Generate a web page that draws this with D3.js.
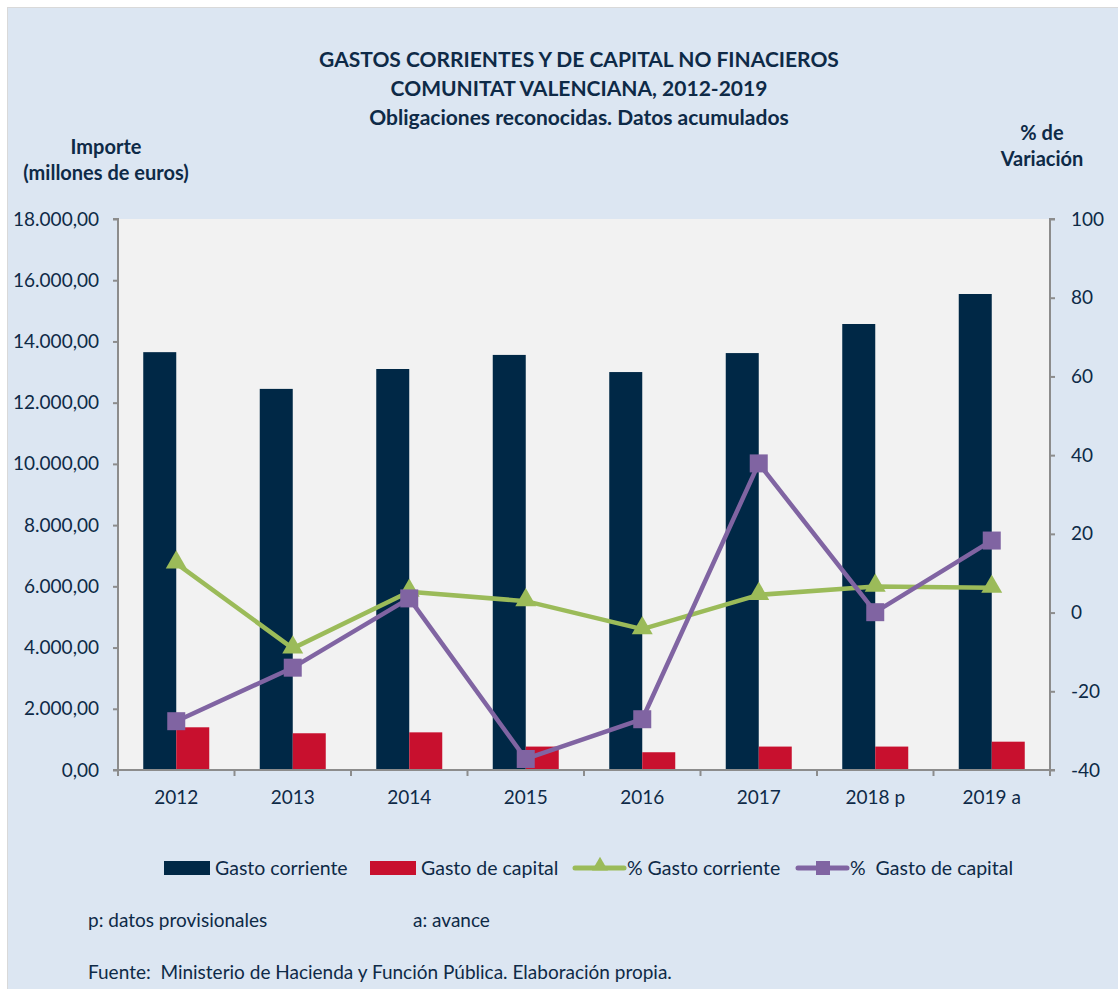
<!DOCTYPE html>
<html>
<head>
<meta charset="utf-8">
<script src="https://cdn.jsdelivr.net/npm/d3@7"></script>
<style>
  body { margin: 0; background: #fff; }
  text { font-family: Lato, "Open Sans", sans-serif; fill: #0e2a47; white-space: pre; }
</style>
</head>
<body>
<div id="chart"></div>
<script>
// Gastos corrientes y de capital, Comunitat Valenciana 2012-2019
var years = ["2012", "2013", "2014", "2015", "2016", "2017", "2018 p", "2019 a"];
var gastoCorriente = [13650, 12450, 13100, 13560, 13000, 13620, 14570, 15550];
var gastoCapital = [1395, 1200, 1230, 765, 580, 765, 765, 925];
var pctCorriente = [12.5, -9.1, 5.3, 2.9, -4.2, 4.5, 6.6, 6.3];
var pctCapital = [-27.6, -14, 3.6, -37.2, -27.1, 37.9, 0.1, 18.3];
var leftTicks = [0, 2000, 4000, 6000, 8000, 10000, 12000, 14000, 16000, 18000];
var rightTicks = [-40, -20, 0, 20, 40, 60, 80, 100];

var width = 1118, height = 989;
var plot = {left: 118, right: 1050, top: 219, bottom: 770};

var colors = {
    corriente: "#002846",
    capital: "#c8102e",
    pctCorr: "#9bbb59",
    pctCap: "#8064a2"
};

var svg = d3.select("#chart").append("svg")
    .attr("width", width)
    .attr("height", height);

// panel background
svg.append("rect")
    .attr("x", 7.5).attr("y", 7.5)
    .attr("width", width).attr("height", height)
    .attr("fill", "#dce6f2")
    .attr("stroke", "#d9d9d9");

svg.append("rect")
    .attr("x", plot.left).attr("y", plot.top)
    .attr("width", plot.right - plot.left)
    .attr("height", plot.bottom - plot.top)
    .attr("fill", "#f2f2f2");

var x = d3.scaleBand().domain(years).range([plot.left, plot.right]);
var y = d3.scaleLinear().domain([0, 18000]).range([plot.bottom, plot.top]);
var y2 = d3.scaleLinear().domain([-40, 100]).range([plot.bottom, plot.top]);
var barW = 33;

var fmt = d3.formatLocale({decimal: ",", thousands: ".", grouping: [3], currency: ["", "€"]}).format(",.2f");

// bars
svg.selectAll(".bar-corr")
    .data(gastoCorriente)
    .enter().append("rect")
    .attr("class", "bar-corr")
    .attr("x", function(d, i) { return x(years[i]) + x.bandwidth() / 2 - barW; })
    .attr("y", function(d) { return y(d); })
    .attr("width", barW)
    .attr("height", function(d) { return y(0) - y(d); })
    .attr("fill", colors.corriente);

svg.selectAll(".bar-cap")
    .data(gastoCapital)
    .enter().append("rect")
    .attr("class", "bar-cap")
    .attr("x", function(d, i) { return x(years[i]) + x.bandwidth() / 2; })
    .attr("y", function(d) { return y(d); })
    .attr("width", barW)
    .attr("height", function(d) { return y(0) - y(d); })
    .attr("fill", colors.capital);

// axes
var axisColor = "#8c8c8c";

var leftAxis = svg.append("g")
    .attr("transform", "translate(" + plot.left + ",0)")
    .call(d3.axisLeft(y).tickValues(leftTicks).tickSize(5).tickPadding(14).tickFormat(fmt));

var rightAxis = svg.append("g")
    .attr("transform", "translate(" + plot.right + ",0)")
    .call(d3.axisRight(y2).tickValues(rightTicks).tickSize(5).tickPadding(16)
        .tickFormat(function(d) { return String(d); }));

var bottomAxis = svg.append("g")
    .attr("transform", "translate(0," + plot.bottom + ")")
    .call(d3.axisBottom(x).tickSize(0).tickPadding(21));

// category separators on x axis
bottomAxis.selectAll(".sep")
    .data(years.concat(["end"]))
    .enter().append("line")
    .attr("class", "sep")
    .attr("x1", function(d, i) { return plot.left + i * x.step(); })
    .attr("x2", function(d, i) { return plot.left + i * x.step(); })
    .attr("y1", 0).attr("y2", 6)
    .attr("stroke", axisColor).attr("stroke-width", 2);

[leftAxis, rightAxis, bottomAxis].forEach(function(g) {
    g.select(".domain").attr("stroke", axisColor).attr("stroke-width", 2);
    g.selectAll(".tick line").attr("stroke", axisColor).attr("stroke-width", 2);
    g.selectAll("text").style("font-size", "19px").attr("fill", "#0e2a47");
});
leftAxis.select(".domain").attr("d", "M-5," + plot.top + "H0V" + plot.bottom + "H-5");
rightAxis.select(".domain").attr("d", "M5," + plot.top + "H0V" + plot.bottom + "H5");
bottomAxis.select(".domain").attr("d", "M" + plot.left + ",0H" + plot.right);
bottomAxis.selectAll(".tick text").attr("dy", "0.71em");

// lines
function cx(i) { return x(years[i]) + x.bandwidth() / 2; }

var line = d3.line()
    .x(function(d, i) { return cx(i); })
    .y(function(d) { return y2(d); });

svg.append("path")
    .datum(pctCorriente)
    .attr("d", line)
    .attr("fill", "none")
    .attr("stroke", colors.pctCorr)
    .attr("stroke-width", 4.5)
    .attr("stroke-linejoin", "round");

svg.selectAll(".tri")
    .data(pctCorriente)
    .enter().append("path")
    .attr("class", "tri")
    .attr("d", d3.symbol().type(d3.symbolTriangle).size(190))
    .attr("transform", function(d, i) { return "translate(" + cx(i) + "," + (y2(d) - 1) + ")"; })
    .attr("fill", colors.pctCorr);

svg.append("path")
    .datum(pctCapital)
    .attr("d", line)
    .attr("fill", "none")
    .attr("stroke", colors.pctCap)
    .attr("stroke-width", 4.5)
    .attr("stroke-linejoin", "round");

svg.selectAll(".sq")
    .data(pctCapital)
    .enter().append("rect")
    .attr("class", "sq")
    .attr("x", function(d, i) { return cx(i) - 9; })
    .attr("y", function(d) { return y2(d) - 9; })
    .attr("width", 18).attr("height", 18)
    .attr("fill", colors.pctCap);

// titles
var titles = ["GASTOS CORRIENTES Y DE CAPITAL NO FINACIEROS",
              "COMUNITAT VALENCIANA, 2012-2019",
              "Obligaciones reconocidas. Datos acumulados"];
svg.selectAll(".title")
    .data(titles)
    .enter().append("text")
    .attr("x", 579)
    .attr("y", function(d, i) { return 67 + i * 29; })
    .attr("text-anchor", "middle")
    .style("font-size", "21px")
    .style("font-weight", "bold")
    .text(function(d) { return d; });

svg.append("text").attr("x", 106).attr("y", 154).attr("text-anchor", "middle")
    .style("font-size", "20px").style("font-weight", "bold").text("Importe");
svg.append("text").attr("x", 106).attr("y", 180).attr("text-anchor", "middle")
    .style("font-size", "20px").style("font-weight", "bold").text("(millones de euros)");
svg.append("text").attr("x", 1042).attr("y", 140).attr("text-anchor", "middle")
    .style("font-size", "20px").style("font-weight", "bold").text("% de");
svg.append("text").attr("x", 1042).attr("y", 166).attr("text-anchor", "middle")
    .style("font-size", "20px").style("font-weight", "bold").text("Variación");

// legend
var legend = svg.append("g").attr("transform", "translate(0,868)");
var legItems = [
    {label: "Gasto corriente", type: "bar", color: colors.corriente, x: 164},
    {label: "Gasto de capital", type: "bar", color: colors.capital, x: 370},
    {label: "% Gasto corriente", type: "tri", color: colors.pctCorr, x: 575},
    {label: "%  Gasto de capital", type: "sq", color: colors.pctCap, x: 798}
];
legItems.forEach(function(d) {
    var g = legend.append("g").attr("transform", "translate(" + d.x + ",0)");
    if (d.type === "bar") {
        g.append("rect").attr("x", 0).attr("y", -7).attr("width", 46).attr("height", 14).attr("fill", d.color);
        g.append("text").attr("x", 51).attr("y", 7).style("font-size", "19.5px").text(d.label);
    } else {
        g.append("line").attr("x1", 0).attr("x2", 49).attr("y1", 0).attr("y2", 0)
            .attr("stroke", d.color).attr("stroke-width", 5).attr("stroke-linecap", "round");
        if (d.type === "tri") {
            g.append("path").attr("d", d3.symbol().type(d3.symbolTriangle).size(110))
                .attr("transform", "translate(25,-2)").attr("fill", d.color);
        } else {
            g.append("rect").attr("x", 18).attr("y", -7).attr("width", 14).attr("height", 14).attr("fill", d.color);
        }
        g.append("text").attr("x", 52).attr("y", 7).style("font-size", "19.5px").text(d.label);
    }
});

// notes
svg.append("text").attr("x", 88).attr("y", 927).style("font-size", "19px").text("p: datos provisionales");
svg.append("text").attr("x", 413).attr("y", 927).style("font-size", "19px").text("a: avance");
svg.append("text").attr("x", 88).attr("y", 979).style("font-size", "19px")
    .text("Fuente:  Ministerio de Hacienda y Función Pública. Elaboración propia.");
</script>
</body>
</html>
